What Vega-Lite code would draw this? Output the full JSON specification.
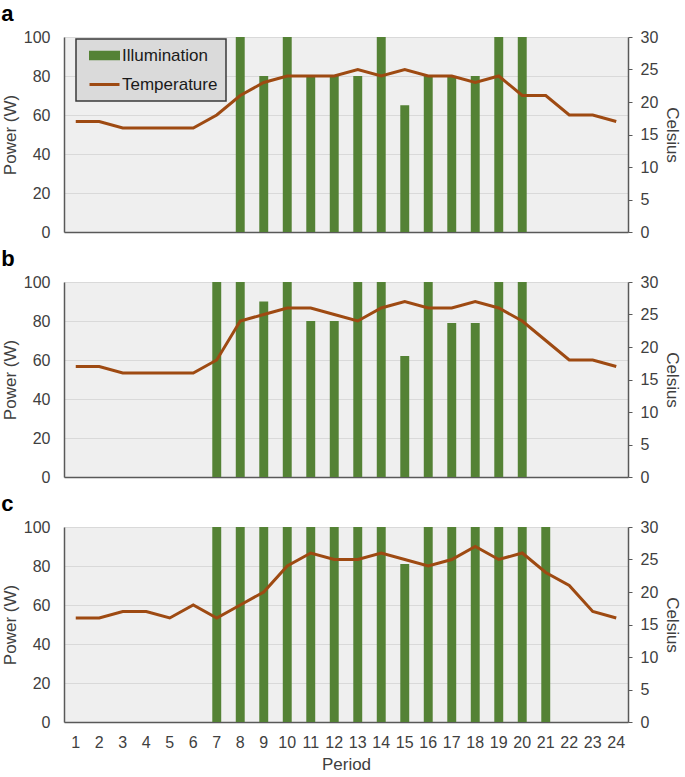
{
  "$schema": "https://vega.github.io/schema/vega-lite/v6.json",
  "padding": {"left": 1, "top": 3, "right": 2, "bottom": 0},
  "background": "white",
  "config": {
    "font": "Liberation Sans",
    "view": {"fill": "#efefef", "stroke": null},
    "axis": {"labelFont": "Liberation Sans", "labelFontSize": 16, "labelColor": "#404040", "titleFont": "Liberation Sans", "titleFontSize": 17, "titleFontWeight": "normal", "titleColor": "#404040", "domainColor": "#595959", "tickColor": "#595959", "gridColor": "#d9d9d9"},
    "title": {"font": "Liberation Sans", "fontSize": 22, "fontWeight": "bold", "anchor": "start", "frame": "bounds", "color": "black", "offset": 3},
    "concat": {"spacing": 8}
  },
  "datasets": {
    "a": [
      {"period": 1, "illum": null, "temp": 17}, {"period": 2, "illum": null, "temp": 17}, {"period": 3, "illum": null, "temp": 16}, {"period": 4, "illum": null, "temp": 16},
      {"period": 5, "illum": null, "temp": 16}, {"period": 6, "illum": null, "temp": 16}, {"period": 7, "illum": null, "temp": 18}, {"period": 8, "illum": 100, "temp": 21},
      {"period": 9, "illum": 80, "temp": 23}, {"period": 10, "illum": 100, "temp": 24}, {"period": 11, "illum": 80, "temp": 24}, {"period": 12, "illum": 80, "temp": 24},
      {"period": 13, "illum": 80, "temp": 25}, {"period": 14, "illum": 100, "temp": 24}, {"period": 15, "illum": 65, "temp": 25}, {"period": 16, "illum": 80, "temp": 24},
      {"period": 17, "illum": 80, "temp": 24}, {"period": 18, "illum": 80, "temp": 23}, {"period": 19, "illum": 100, "temp": 24}, {"period": 20, "illum": 100, "temp": 21},
      {"period": 21, "illum": null, "temp": 21}, {"period": 22, "illum": null, "temp": 18}, {"period": 23, "illum": null, "temp": 18}, {"period": 24, "illum": null, "temp": 17}
    ],
    "b": [
      {"period": 1, "illum": null, "temp": 17}, {"period": 2, "illum": null, "temp": 17}, {"period": 3, "illum": null, "temp": 16}, {"period": 4, "illum": null, "temp": 16},
      {"period": 5, "illum": null, "temp": 16}, {"period": 6, "illum": null, "temp": 16}, {"period": 7, "illum": 100, "temp": 18}, {"period": 8, "illum": 100, "temp": 24},
      {"period": 9, "illum": 90, "temp": 25}, {"period": 10, "illum": 100, "temp": 26}, {"period": 11, "illum": 80, "temp": 26}, {"period": 12, "illum": 80, "temp": 25},
      {"period": 13, "illum": 100, "temp": 24}, {"period": 14, "illum": 100, "temp": 26}, {"period": 15, "illum": 62, "temp": 27}, {"period": 16, "illum": 100, "temp": 26},
      {"period": 17, "illum": 79, "temp": 26}, {"period": 18, "illum": 79, "temp": 27}, {"period": 19, "illum": 100, "temp": 26}, {"period": 20, "illum": 100, "temp": 24},
      {"period": 21, "illum": null, "temp": 21}, {"period": 22, "illum": null, "temp": 18}, {"period": 23, "illum": null, "temp": 18}, {"period": 24, "illum": null, "temp": 17}
    ],
    "c": [
      {"period": 1, "illum": null, "temp": 16}, {"period": 2, "illum": null, "temp": 16}, {"period": 3, "illum": null, "temp": 17}, {"period": 4, "illum": null, "temp": 17},
      {"period": 5, "illum": null, "temp": 16}, {"period": 6, "illum": null, "temp": 18}, {"period": 7, "illum": 100, "temp": 16}, {"period": 8, "illum": 100, "temp": 18},
      {"period": 9, "illum": 100, "temp": 20}, {"period": 10, "illum": 100, "temp": 24}, {"period": 11, "illum": 100, "temp": 26}, {"period": 12, "illum": 100, "temp": 25},
      {"period": 13, "illum": 100, "temp": 25}, {"period": 14, "illum": 100, "temp": 26}, {"period": 15, "illum": 81, "temp": 25}, {"period": 16, "illum": 100, "temp": 24},
      {"period": 17, "illum": 100, "temp": 25}, {"period": 18, "illum": 100, "temp": 27}, {"period": 19, "illum": 100, "temp": 25}, {"period": 20, "illum": 100, "temp": 26},
      {"period": 21, "illum": 100, "temp": 23}, {"period": 22, "illum": null, "temp": 21}, {"period": 23, "illum": null, "temp": 17}, {"period": 24, "illum": null, "temp": 16}
    ]
  },
  "vconcat": [
    {
      "title": {"text": "a"},
      "width": 564, "height": 195,
      "data": {"name": "a"},
      "encoding": {
        "x": {"field": "period", "type": "ordinal", "scale": {"paddingInner": 0.62, "paddingOuter": 0.31}, "axis": {"labels": false, "ticks": false, "title": null, "domainWidth": 1.5, "grid": false}}
      },
      "layer": [
        {
          "mark": {"type": "bar"},
          "encoding": {
            "y": {"field": "illum", "type": "quantitative", "scale": {"domain": [0, 100]}, "axis": {"title": "Power (W)", "values": [0, 20, 40, 60, 80, 100], "grid": true, "ticks": false, "labelPadding": 14, "titlePadding": 4, "domainWidth": 1.5}},
            "color": {"datum": "Illumination", "type": "nominal",
              "scale": {"domain": ["Illumination", "Temperature"], "range": ["#548235", "#9e4a12"]},
              "legend": {"orient": "none", "legendX": 12, "legendY": 2, "title": null, "symbolType": "M-2.8,-0.65H2.8V0.65H-2.8Z", "symbolSize": 100, "symbolStrokeWidth": 3, "labelFontSize": 17, "labelColor": "#1a1a1a", "labelFont": "Liberation Sans", "fillColor": "#dadada", "strokeColor": "#3a3a3a", "padding": 8, "rowPadding": 10, "labelOffset": 9, "symbolOffset": 12,
                "encode": {
                  "legend": {"update": {"strokeWidth": {"value": 1.5}}},
                  "symbols": {"update": {
                  "shape": {"signal": "datum.value === 'Illumination' ? 'M-2.8,-0.65H2.8V0.65H-2.8Z' : 'M-3,0H3'"},
                  "fill": {"signal": "datum.value === 'Illumination' ? '#548235' : 'transparent'"},
                  "stroke": {"signal": "datum.value === 'Illumination' ? 'transparent' : '#9e4a12'"},
                  "strokeWidth": {"value": 3},
                  "size": {"value": 100}}}}}
            }
          }
        },
        {
          "mark": {"type": "line", "strokeWidth": 3},
          "encoding": {
            "y": {"field": "temp", "type": "quantitative", "scale": {"domain": [0, 30]}, "axis": {"orient": "right", "title": "Celsius", "values": [0, 5, 10, 15, 20, 25, 30], "grid": false, "tickSize": 4, "labelPadding": 8, "titlePadding": 5, "domainWidth": 1.5}},
            "color": {"datum": "Temperature", "type": "nominal"}
          }
        }
      ],
      "resolve": {"scale": {"y": "independent"}}
    },
    {
      "title": {"text": "b"},
      "width": 564, "height": 195,
      "data": {"name": "b"},
      "encoding": {
        "x": {"field": "period", "type": "ordinal", "scale": {"paddingInner": 0.62, "paddingOuter": 0.31}, "axis": {"labels": false, "ticks": false, "title": null, "domainWidth": 1.5, "grid": false}}
      },
      "layer": [
        {
          "mark": {"type": "bar", "color": "#548235"},
          "encoding": {
            "y": {"field": "illum", "type": "quantitative", "scale": {"domain": [0, 100]}, "axis": {"title": "Power (W)", "values": [0, 20, 40, 60, 80, 100], "grid": true, "ticks": false, "labelPadding": 14, "titlePadding": 4, "domainWidth": 1.5}}
          }
        },
        {
          "mark": {"type": "line", "strokeWidth": 3, "color": "#9e4a12"},
          "encoding": {
            "y": {"field": "temp", "type": "quantitative", "scale": {"domain": [0, 30]}, "axis": {"orient": "right", "title": "Celsius", "values": [0, 5, 10, 15, 20, 25, 30], "grid": false, "tickSize": 4, "labelPadding": 8, "titlePadding": 5, "domainWidth": 1.5}}
          }
        }
      ],
      "resolve": {"scale": {"y": "independent"}}
    },
    {
      "title": {"text": "c"},
      "width": 564, "height": 195,
      "data": {"name": "c"},
      "encoding": {
        "x": {"field": "period", "type": "ordinal", "scale": {"paddingInner": 0.62, "paddingOuter": 0.31}, "axis": {"labelAngle": 0, "ticks": false, "title": "Period", "labelPadding": 12, "titlePadding": 6, "domainWidth": 1.5, "grid": false}}
      },
      "layer": [
        {
          "mark": {"type": "bar", "color": "#548235"},
          "encoding": {
            "y": {"field": "illum", "type": "quantitative", "scale": {"domain": [0, 100]}, "axis": {"title": "Power (W)", "values": [0, 20, 40, 60, 80, 100], "grid": true, "ticks": false, "labelPadding": 14, "titlePadding": 4, "domainWidth": 1.5}}
          }
        },
        {
          "mark": {"type": "line", "strokeWidth": 3, "color": "#9e4a12"},
          "encoding": {
            "y": {"field": "temp", "type": "quantitative", "scale": {"domain": [0, 30]}, "axis": {"orient": "right", "title": "Celsius", "values": [0, 5, 10, 15, 20, 25, 30], "grid": false, "tickSize": 4, "labelPadding": 8, "titlePadding": 5, "domainWidth": 1.5}}
          }
        }
      ],
      "resolve": {"scale": {"y": "independent"}}
    }
  ],
  "resolve": {"scale": {"y": "independent"}}
}
